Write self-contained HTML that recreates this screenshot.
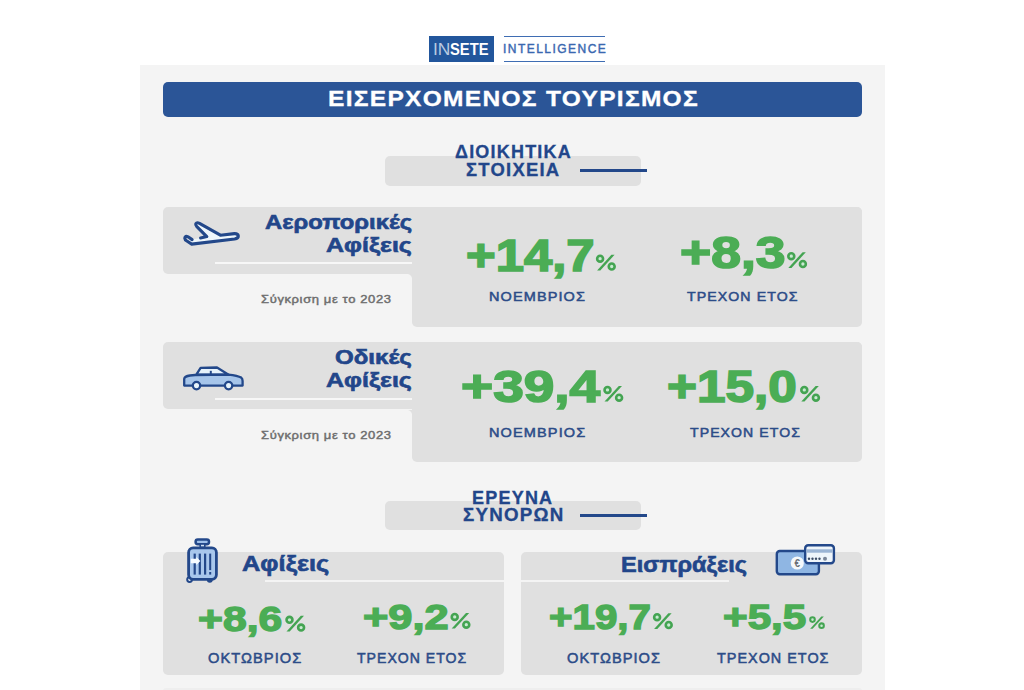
<!DOCTYPE html>
<html><head><meta charset="utf-8"><style>
html,body{margin:0;padding:0;background:#fff;width:1024px;height:690px;overflow:hidden;position:relative;}
div,svg{position:absolute;}
.t{font-family:"Liberation Sans",sans-serif;white-space:nowrap;transform-origin:0 0;}
</style></head><body>

<div style="left:429px;top:36px;width:65px;height:26px;background:#22569c;"></div>
<div style="left:504px;top:36px;width:101px;height:1.2px;background:#3f6db3;"></div>
<div style="left:504px;top:61px;width:101px;height:1.2px;background:#3f6db3;"></div>
<div style="left:140px;top:65px;width:745px;height:625px;background:#f4f4f4;"></div>
<div style="left:163px;top:82px;width:699px;height:35px;background:#2b5597;border-radius:5px;"></div>
<div style="left:385px;top:156px;width:256px;height:29.5px;background:#e0e0e0;border-radius:5px;"></div>
<div style="left:580px;top:169px;width:67px;height:3px;background:#23488a;"></div>
<div style="left:163px;top:207px;width:699px;height:66.5px;background:#e0e0e0;border-radius:5px;"></div>
<div style="left:412px;top:207px;width:450px;height:119.5px;background:#e0e0e0;border-radius:5px;"></div>
<div style="left:407px;top:273.5px;width:5px;height:5px;background:radial-gradient(circle at 0 100%,#f4f4f4 4.6px,#e0e0e0 5.4px);"></div>
<div style="left:215px;top:262px;width:197px;height:2px;background:#f7f7f7;"></div>
<div style="left:163px;top:342.2px;width:699px;height:67.3px;background:#e0e0e0;border-radius:5px;"></div>
<div style="left:412px;top:342.2px;width:450px;height:119.5px;background:#e0e0e0;border-radius:5px;"></div>
<div style="left:407px;top:409.5px;width:5px;height:5px;background:radial-gradient(circle at 0 100%,#f4f4f4 4.6px,#e0e0e0 5.4px);"></div>
<div style="left:215px;top:397.8px;width:197px;height:2px;background:#f7f7f7;"></div>
<div style="left:385px;top:500.8px;width:256px;height:29.5px;background:#e0e0e0;border-radius:5px;"></div>
<div style="left:580px;top:514px;width:67px;height:3px;background:#23488a;"></div>
<div style="left:163px;top:552px;width:341px;height:123px;background:#e0e0e0;border-radius:5px;"></div>
<div style="left:520.5px;top:552px;width:341.5px;height:123px;background:#e0e0e0;border-radius:5px;"></div>
<div style="left:264.5px;top:580px;width:239.5px;height:2px;background:#f4f4f4;"></div>
<div style="left:520.5px;top:580px;width:208px;height:2px;background:#f4f4f4;"></div>
<div style="left:163px;top:688px;width:699px;height:6px;background:#eeeeee;border-radius:5px;"></div>

<svg style="left:0;top:0" width="1024" height="690" viewBox="0 0 1024 690">
 <!-- plane -->
 <path d="M187,237 L191.7,244.1 L234.6,239 Q238,236 234.4,233.6 L220.4,235.2 L199,223 L196,226 L206.8,236.6 L200.6,237.9 L192,239.6 Z" fill="#eef6fb"/>
 <path d="M192.1,239.6 L188,236.8 Q185,235.2 184.8,238.2 Q185,239.8 186.5,240.8 L191.7,244.1 L234.6,239.0 Q238.4,238.4 238.3,236.0 Q238.0,233.5 234.4,233.6 L220.4,235.2 L199.5,223.3 Q196.8,222 195.8,223.8 Q195.3,225.2 196.6,226.4 L206.8,236.6 L200.6,237.9" fill="none" stroke="#23488a" stroke-width="3.1" stroke-linecap="round" stroke-linejoin="round"/>
 <!-- car -->
 <path d="M196.5,374.4 L200.6,367.9 L217,367.5 L228.6,374.7 Z" fill="#e6f2fb" stroke="#23488a" stroke-width="2.3" stroke-linejoin="round"/>
 <path d="M184.2,385.6 L184.2,378.8 Q184.5,376.3 190,375.5 L195.1,375 L228.2,374.7 Q238,375.8 241.2,377.6 Q242.6,378.8 242.6,381 L242.6,385.6 Z" fill="#a6c5ea" stroke="#23488a" stroke-width="2.3" stroke-linejoin="round"/>
 <line x1="210.8" y1="370.8" x2="210.8" y2="374.7" stroke="#23488a" stroke-width="2"/>
 <circle cx="196.5" cy="385.6" r="3.7" fill="#e8f4fb" stroke="#23488a" stroke-width="2.3"/>
 <circle cx="228.6" cy="385.6" r="3.7" fill="#e8f4fb" stroke="#23488a" stroke-width="2.3"/>
 <!-- luggage -->
 <rect x="195.6" y="539.6" width="13.4" height="4.6" rx="2.2" fill="#9fc0ea" stroke="#23488a" stroke-width="2.5"/>
 <rect x="200.2" y="544" width="4.6" height="3.5" fill="#cfe0f3" stroke="#23488a" stroke-width="1.6"/>
 <circle cx="189.6" cy="579.6" r="2.4" fill="#f0f6fb" stroke="#23488a" stroke-width="2"/>
 <circle cx="209.8" cy="579.8" r="2.2" fill="#23488a" stroke="#23488a" stroke-width="1.5"/>
 <rect x="188.6" y="547.9" width="27.8" height="31.4" rx="4.5" fill="#a8c7ec" stroke="#23488a" stroke-width="2.8"/>
 <rect x="193.6" y="553.6" width="2.2" height="21" fill="#23488a"/>
 <rect x="198.7" y="553.6" width="2.2" height="21" fill="#23488a"/>
 <rect x="204" y="553.6" width="2.2" height="21" fill="#23488a"/>
 <rect x="209.2" y="553.6" width="2" height="16.5" fill="#23488a"/>
 <rect x="209.2" y="572" width="2" height="2.6" fill="#23488a"/>
 <path d="M190.8,558.8 L196.3,558.8 L196.3,557 L200.4,561 L196.3,565 L196.3,563.3 L190.8,563.3 Z" fill="#f6fbff"/>
 <!-- money -->
 <rect x="776.8" y="551" width="42.1" height="23.3" rx="3" fill="#8fb6e3" stroke="#23488a" stroke-width="2.4"/>
 <circle cx="797.3" cy="563" r="6.6" fill="#f4f8fb"/>
 <text x="797.3" y="566.6" font-family="Liberation Sans" font-size="10" font-weight="bold" fill="#6b7077" text-anchor="middle">€</text>
 <rect x="805.2" y="545.2" width="28.7" height="18.1" rx="3" fill="#eef5fb" stroke="#23488a" stroke-width="2.4"/>
 <rect x="806.4" y="549.3" width="26.3" height="3.4" fill="#9ab4d4"/>
 <g fill="#3d4d66"><circle cx="809" cy="558.8" r="1.2"/><circle cx="812.5" cy="558.8" r="1.2"/><circle cx="816" cy="558.8" r="1.2"/><circle cx="819.5" cy="558.8" r="1.2"/><circle cx="825" cy="558.8" r="2" fill="#7a8699"/></g>
 <defs><g id="pct" fill="#c9ead1" stroke="#44a452" stroke-width="2.6"><circle cx="0" cy="0" r="2.95"/><circle cx="11.6" cy="7.8" r="2.95"/><polygon points="11.3,-4 14.5,-4 0.2,11.7 -3.0,11.7" stroke="none" fill="#44a452"/></g></defs>
 <use href="#pct" x="600.1" y="258.7"/>
 <use href="#pct" x="791.3" y="256.2"/>
 <use href="#pct" x="607.5" y="389.9"/>
 <use href="#pct" x="804.3" y="389.9"/>
 <use href="#pct" x="289.5" y="619.8"/>
 <use href="#pct" x="454.7" y="616.9"/>
 <use href="#pct" x="657.1" y="617.2"/>
 <g transform="translate(812.5 619.6) scale(0.78)"><use href="#pct"/></g>
</svg>
<div class="t" style="left:432.99px;top:41.6px;font-size:16.8px;line-height:16.8px;font-weight:normal;color:#b9c9e1;transform:scaleX(1.037);">IN</div>
<div class="t" style="left:450.14px;top:41.6px;font-size:16.8px;line-height:16.8px;font-weight:bold;color:#ffffff;transform:scaleX(0.8781);">SETE</div>
<div class="t" style="left:502.88px;top:42.25px;font-size:13.0px;line-height:13.0px;font-weight:normal;color:#3a68b0;transform:scaleX(0.9218);-webkit-text-stroke:0.45px #3a68b0;letter-spacing:1.6px;">INTELLIGENCE</div>
<div class="t" style="left:327.79px;top:87.43px;font-size:22.9px;line-height:22.9px;font-weight:bold;color:#ffffff;transform:scaleX(1.0719);-webkit-text-stroke:0.3px #ffffff;letter-spacing:1.2px;">ΕΙΣΕΡΧΟΜΕΝΟΣ ΤΟΥΡΙΣΜΟΣ</div>
<div class="t" style="left:454.69px;top:144.43px;font-size:17.8px;line-height:17.8px;font-weight:bold;color:#22468a;transform:scaleX(1.0115);-webkit-text-stroke:0.3px #22468a;letter-spacing:1.2px;">ΔΙΟΙΚΗΤΙΚΑ</div>
<div class="t" style="left:466.22px;top:161.77px;font-size:17.8px;line-height:17.8px;font-weight:bold;color:#22468a;transform:scaleX(1.0366);-webkit-text-stroke:0.3px #22468a;letter-spacing:1.2px;">ΣΤΟΙΧΕΙΑ</div>
<div class="t" style="left:471.99px;top:489.75px;font-size:17.8px;line-height:17.8px;font-weight:bold;color:#22468a;transform:scaleX(1.0122);-webkit-text-stroke:0.3px #22468a;letter-spacing:1.2px;">ΕΡΕΥΝΑ</div>
<div class="t" style="left:462.61px;top:506.58px;font-size:17.8px;line-height:17.8px;font-weight:bold;color:#22468a;transform:scaleX(1.0524);-webkit-text-stroke:0.3px #22468a;letter-spacing:1.2px;">ΣΥΝΟΡΩΝ</div>
<div class="t" style="left:264.9px;top:213.28px;font-size:19.8px;line-height:19.8px;font-weight:bold;color:#22468a;transform:scaleX(1.2045);-webkit-text-stroke:0.6px #22468a;">Αεροπορικές</div>
<div class="t" style="left:325.68px;top:235.53px;font-size:19.8px;line-height:19.8px;font-weight:bold;color:#22468a;transform:scaleX(1.2639);-webkit-text-stroke:0.6px #22468a;">Αφίξεις</div>
<div class="t" style="left:261.09px;top:293.77px;font-size:10.6px;line-height:10.6px;font-weight:normal;color:#6d6d6d;transform:scaleX(1.2276);-webkit-text-stroke:0.4px #6d6d6d;letter-spacing:0.5px;">Σύγκριση με το 2023</div>
<div class="t" style="left:466.33px;top:234.65px;font-size:43.5px;line-height:43.5px;font-weight:bold;color:#4bad55;transform:scaleX(1.1685);-webkit-text-stroke:1.6px #4bad55;">+14,7</div>
<div class="t" style="left:489.06px;top:290.2px;font-size:13.0px;line-height:13.0px;font-weight:normal;color:#2c4c88;transform:scaleX(1.1141);-webkit-text-stroke:0.5px #2c4c88;letter-spacing:1px;">ΝΟΕΜΒΡΙΟΣ</div>
<div class="t" style="left:679.97px;top:232.25px;font-size:43.5px;line-height:43.5px;font-weight:bold;color:#4bad55;transform:scaleX(1.2286);-webkit-text-stroke:1.6px #4bad55;">+8,3</div>
<div class="t" style="left:686.9px;top:289.6px;font-size:13.0px;line-height:13.0px;font-weight:normal;color:#2c4c88;transform:scaleX(1.0874);-webkit-text-stroke:0.5px #2c4c88;letter-spacing:1px;">ΤΡΕΧΟΝ ΕΤΟΣ</div>
<div class="t" style="left:334.89px;top:348.15px;font-size:19.8px;line-height:19.8px;font-weight:bold;color:#22468a;transform:scaleX(1.2177);-webkit-text-stroke:0.6px #22468a;">Οδικές</div>
<div class="t" style="left:325.68px;top:370.52px;font-size:19.8px;line-height:19.8px;font-weight:bold;color:#22468a;transform:scaleX(1.2639);-webkit-text-stroke:0.6px #22468a;">Αφίξεις</div>
<div class="t" style="left:261.09px;top:429.93px;font-size:10.6px;line-height:10.6px;font-weight:normal;color:#6d6d6d;transform:scaleX(1.2276);-webkit-text-stroke:0.4px #6d6d6d;letter-spacing:0.5px;">Σύγκριση με το 2023</div>
<div class="t" style="left:461.04px;top:366.4px;font-size:43.5px;line-height:43.5px;font-weight:bold;color:#4bad55;transform:scaleX(1.2647);-webkit-text-stroke:1.6px #4bad55;">+39,4</div>
<div class="t" style="left:489.16px;top:425.55px;font-size:13.0px;line-height:13.0px;font-weight:normal;color:#2c4c88;transform:scaleX(1.1176);-webkit-text-stroke:0.5px #2c4c88;letter-spacing:1px;">ΝΟΕΜΒΡΙΟΣ</div>
<div class="t" style="left:667.32px;top:366.4px;font-size:43.5px;line-height:43.5px;font-weight:bold;color:#4bad55;transform:scaleX(1.1796);-webkit-text-stroke:1.6px #4bad55;">+15,0</div>
<div class="t" style="left:689.5px;top:425.55px;font-size:13.0px;line-height:13.0px;font-weight:normal;color:#2c4c88;transform:scaleX(1.0815);-webkit-text-stroke:0.5px #2c4c88;letter-spacing:1px;">ΤΡΕΧΟΝ ΕΤΟΣ</div>
<div class="t" style="left:241.9px;top:554.12px;font-size:21.3px;line-height:21.3px;font-weight:bold;color:#22468a;transform:scaleX(1.1945);-webkit-text-stroke:0.6px #22468a;">Αφίξεις</div>
<div class="t" style="left:198.2px;top:601.95px;font-size:35.5px;line-height:35.5px;font-weight:bold;color:#4bad55;transform:scaleX(1.2015);-webkit-text-stroke:1.4px #4bad55;">+8,6</div>
<div class="t" style="left:207.98px;top:650.67px;font-size:14.2px;line-height:14.2px;font-weight:normal;color:#2c4c88;transform:scaleX(1.0346);-webkit-text-stroke:0.5px #2c4c88;letter-spacing:1px;">ΟΚΤΩΒΡΙΟΣ</div>
<div class="t" style="left:363.18px;top:599.65px;font-size:35.5px;line-height:35.5px;font-weight:bold;color:#4bad55;transform:scaleX(1.2234);-webkit-text-stroke:1.4px #4bad55;">+9,2</div>
<div class="t" style="left:357.1px;top:650.88px;font-size:14.2px;line-height:14.2px;font-weight:normal;color:#2c4c88;transform:scaleX(0.9932);-webkit-text-stroke:0.5px #2c4c88;letter-spacing:1px;">ΤΡΕΧΟΝ ΕΤΟΣ</div>
<div class="t" style="left:621.42px;top:554.92px;font-size:21.3px;line-height:21.3px;font-weight:bold;color:#22468a;transform:scaleX(1.1063);-webkit-text-stroke:0.6px #22468a;">Εισπράξεις</div>
<div class="t" style="left:549.45px;top:599.7px;font-size:35.5px;line-height:35.5px;font-weight:bold;color:#4bad55;transform:scaleX(1.1354);-webkit-text-stroke:1.4px #4bad55;">+19,7</div>
<div class="t" style="left:567.28px;top:650.83px;font-size:14.2px;line-height:14.2px;font-weight:normal;color:#2c4c88;transform:scaleX(1.0313);-webkit-text-stroke:0.5px #2c4c88;letter-spacing:1px;">ΟΚΤΩΒΡΙΟΣ</div>
<div class="t" style="left:722.91px;top:599.95px;font-size:35.5px;line-height:35.5px;font-weight:bold;color:#4bad55;transform:scaleX(1.1884);-webkit-text-stroke:1.4px #4bad55;">+5,5</div>
<div class="t" style="left:717.3px;top:650.83px;font-size:14.2px;line-height:14.2px;font-weight:normal;color:#2c4c88;transform:scaleX(1.0141);-webkit-text-stroke:0.5px #2c4c88;letter-spacing:1px;">ΤΡΕΧΟΝ ΕΤΟΣ</div>
</body></html>
